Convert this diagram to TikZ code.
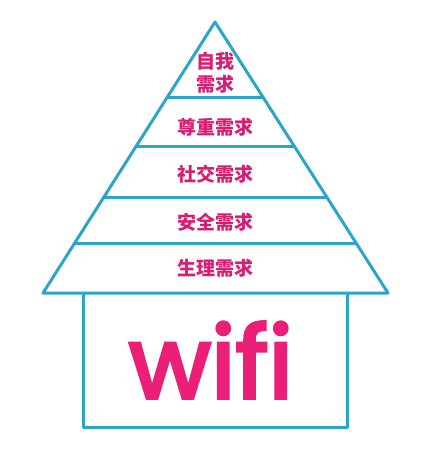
\documentclass[tikz,border=0pt]{standalone}
\usepackage{fontspec}
\usepackage{xcolor}
\usepackage{tikz}
\usetikzlibrary{calc}
\newfontfamily\cjk{Noto Sans CJK SC}
\newfontfamily\wififont{Poppins}[FakeBold=3.5]
\definecolor{lineblue}{RGB}{45,165,200}
\definecolor{needpink}{RGB}{215,30,115}
\definecolor{wifipink}{RGB}{235,30,120}

\begin{document}
\begin{tikzpicture}[x=1pt, y=-1pt,
  edge/.style={draw=lineblue, line width=3pt, line join=round},
  need/.style={text=needpink, font=\cjk\bfseries\fontsize{19}{23}\selectfont, align=center, inner sep=0pt}]
  % Fix the page size
  \useasboundingbox (0,0) rectangle (447,454);

  % Corners of the pyramid
  \coordinate (apex) at (215,22);
  \coordinate (bl) at (43,293);
  \coordinate (br) at (388,293);

  % Draw the pyramid
  \draw[edge] (bl) -- (apex) -- (br) -- cycle;

  % Draw the levels
  \draw[edge] ($(apex)!0.280!(bl)$) -- ($(apex)!0.280!(br)$);
  \draw[edge] ($(apex)!0.461!(bl)$) -- ($(apex)!0.461!(br)$);
  \draw[edge] ($(apex)!0.646!(bl)$) -- ($(apex)!0.646!(br)$);
  \draw[edge] ($(apex)!0.819!(bl)$) -- ($(apex)!0.819!(br)$);

  % Draw the house body
  \draw[edge] (83,293) -- (83,427) -- (347,427) -- (347,293);

  % Labels of the needs
  \node[need] (self) at (215,73) {自我\\需求};
  \node[need] (esteem) at (215,127) {尊重需求};
  \node[need] (social) at (215,174) {社交需求};
  \node[need] (safety) at (215,222) {安全需求};
  \node[need] (body) at (215,268) {生理需求};

  % The word in the house
  \node[text=wifipink, font=\wififont\fontsize{100}{100}\selectfont, inner sep=0pt] (wifi) at (211,360) {wifi};
\end{tikzpicture}
\end{document}
